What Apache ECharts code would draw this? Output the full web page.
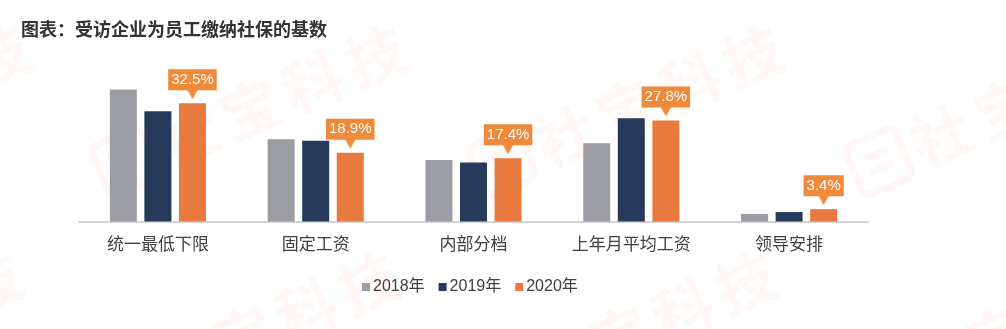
<!DOCTYPE html>
<html>
<head>
<meta charset="utf-8">
<script src="https://cdn.jsdelivr.net/npm/echarts@6/dist/echarts.min.js"></script>
<style>
  html, body { margin: 0; padding: 0; background: #ffffff; }
  #chart { width: 1006px; height: 329px; }
</style>
</head>
<body>
<div id="chart"></div>
<script>
// 受访企业为员工缴纳社保的基数 (%)
const categories = ['统一最低下限', '固定工资', '内部分档', '上年月平均工资', '领导安排'];
const seriesNames = ['2018年', '2019年', '2020年'];
const values2018 = [36.3, 22.6, 16.9, 21.5, 2.1];
const values2019 = [30.3, 22.2, 16.2, 28.4, 2.6];
const values2020 = [32.5, 18.9, 17.4, 27.8, 3.4];

const colors = ['#9c9da2', '#263a5b', '#e87a3f'];
const calloutColor = '#ef8a3b';
const cjk = '"Noto Sans CJK SC", "Liberation Sans", sans-serif';
const latin = '"Liberation Sans", "Noto Sans CJK SC", sans-serif';

// small downward pointer under each value callout
const pointer = document.createElement('canvas');
pointer.width = 12;
pointer.height = 11;
(function () {
  const ctx = pointer.getContext('2d');
  ctx.fillStyle = calloutColor;
  ctx.beginPath();
  ctx.moveTo(0, 0);
  ctx.lineTo(12, 0);
  ctx.lineTo(6, 11);
  ctx.closePath();
  ctx.fill();
})();

// faint repeating brand watermark: logo + four characters on a slant
function watermark(x, y) {
  const tint = 'rgba(236, 105, 65, 0.055)';
  const chars = ['社', '宝', '科', '技'];
  const children = [
    { type: 'rect', shape: { x: -27, y: -27, width: 54, height: 54, r: 9 },
      style: { fill: 'none', stroke: tint, lineWidth: 7 } },
    { type: 'rect', shape: { x: -13, y: -12, width: 26, height: 7 }, style: { fill: tint } },
    { type: 'rect', shape: { x: -13, y: 3, width: 26, height: 7 }, style: { fill: tint } }
  ];
  chars.forEach(function (ch, k) {
    children.push({
      type: 'text', x: 68 * (k + 1), y: 0,
      style: { text: ch, fill: tint, font: 'bold 60px "Noto Sans CJK SC"',
               textVerticalAlign: 'middle', textAlign: 'center' }
    });
  });
  return { type: 'group', x: x, y: y, rotation: 0.4, silent: true, z: -10, children: children };
}
const marks = [];
for (let i = -1; i < 3; i++) {
  marks.push(watermark(125 + 377 * i, 162));
  marks.push(watermark(118 + 377 * i, 389));
}

const chart = echarts.init(document.getElementById('chart'), null, { renderer: 'canvas' });

const barBase = {
  type: 'bar',
  barWidth: 27,
  barGap: '28%',
  emphasis: { disabled: true }
};

chart.setOption({
  animation: false,
  backgroundColor: '#ffffff',
  title: {
    text: '图表：受访企业为员工缴纳社保的基数',
    left: 16,
    top: 15,
    textStyle: { fontFamily: cjk, fontSize: 18, fontWeight: 'bold', color: '#333333' }
  },
  graphic: marks,
  legend: {
    data: seriesNames,
    left: 357,
    top: 274,
    icon: 'rect',
    itemWidth: 8,
    itemHeight: 8,
    itemGap: 14,
    textStyle: { fontFamily: latin, fontSize: 16, color: '#404040', padding: [0, 0, 0, -2] }
  },
  grid: { left: 79, right: 138, top: 76, bottom: 107.5, containLabel: false },
  xAxis: {
    type: 'category',
    data: categories,
    axisLine: { lineStyle: { color: '#d4d4d4', width: 2 } },
    axisTick: { show: false },
    axisLabel: { fontFamily: cjk, fontSize: 17, color: '#404040', margin: 14 }
  },
  yAxis: {
    type: 'value',
    min: 0,
    max: 40,
    show: false,
    splitLine: { show: false }
  },
  series: [
    Object.assign({}, barBase, { name: seriesNames[0], data: values2018, itemStyle: { color: colors[0] } }),
    Object.assign({}, barBase, { name: seriesNames[1], data: values2019, itemStyle: { color: colors[1] } }),
    Object.assign({}, barBase, {
      name: seriesNames[2],
      data: values2020,
      itemStyle: { color: colors[2] },
      label: {
        show: true,
        position: 'top',
        distance: 4,
        formatter: function (p) { return '{box|' + p.value + '%}\n{tip|}'; },
        rich: {
          box: {
            backgroundColor: calloutColor,
            color: '#ffffff',
            fontFamily: latin,
            fontSize: 15,
            lineHeight: 17,
            padding: [3, 3, 3, 3],
            align: 'center'
          },
          tip: {
            width: 12,
            height: 11,
            lineHeight: 11,
            backgroundColor: { image: pointer },
            align: 'center'
          }
        }
      }
    })
  ]
});
</script>
</body>
</html>
